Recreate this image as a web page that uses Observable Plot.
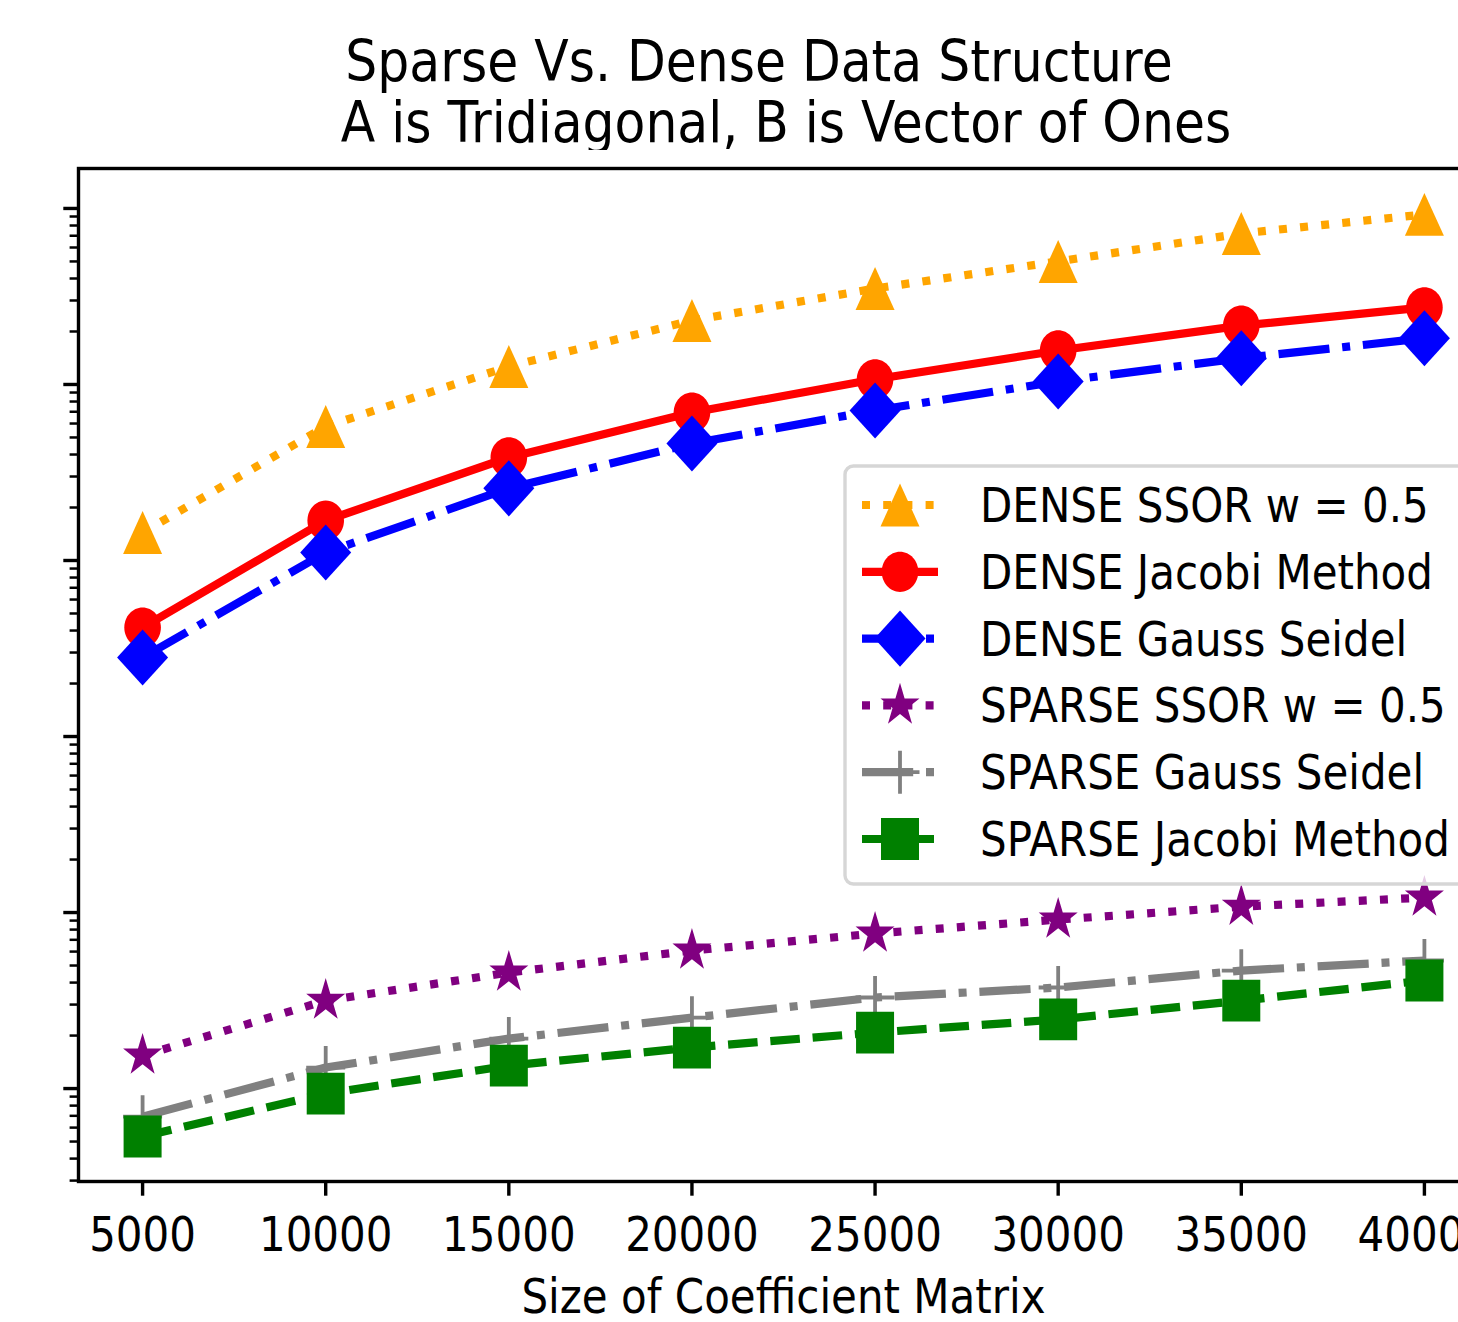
<!DOCTYPE html>
<html><head><meta charset="utf-8">
<script src="https://cdn.jsdelivr.net/npm/d3@7"></script>
<script src="https://cdn.jsdelivr.net/npm/@observablehq/plot@0.6"></script>
<style>
html,body{margin:0;padding:0;background:#fff;overflow:hidden;width:1458px;height:1322px;}
#title{position:relative;height:150px;width:1458px;font-family:"DejaVu Sans";font-size:50.4px;line-height:50.4px;color:#000;}
#title div{position:absolute;white-space:nowrap;transform-origin:50% 42.6px;transform:translateX(-50%) scaleY(1.14);}
#chart{position:relative;width:1500px;}
</style></head><body>
<div id="title"><div id="t1" style="left:759px;top:39px"></div><div id="t2" style="left:786px;top:100px"></div></div>
<div id="chart"></div>
<script>
// ---- data ----
const sizes = [5000, 10000, 15000, 20000, 25000, 30000, 35000, 40000];
const denseSSOR    = [1.443, 5.77, 12.66, 23.1, 35.1, 50.0, 72.1, 92.5];
const denseJacobi  = [0.416, 1.687, 3.85, 6.93, 10.7, 15.6, 21.6, 27.4];
const denseGS      = [0.281, 1.11, 2.57, 4.62, 7.12, 10.4, 14.1, 18.3];
const sparseSSOR   = [0.00154, 0.00316, 0.00456, 0.00608, 0.0076, 0.00912, 0.0108, 0.01217];
const sparseGS     = [0.000693, 0.001316, 0.001923, 0.00253, 0.00329, 0.00375, 0.00468, 0.00534];
const sparseJacobi = [0.000534, 0.000937, 0.00135, 0.00171, 0.00208, 0.00247, 0.00316, 0.00411];
const seriesNames = ["DENSE SSOR w = 0.5", "DENSE Jacobi Method", "DENSE Gauss Seidel",
                     "SPARSE SSOR w = 0.5", "SPARSE Gauss Seidel", "SPARSE Jacobi Method"];
const seriesValues = [denseSSOR, denseJacobi, denseGS, sparseSSOR, sparseGS, sparseJacobi];
const xTickValues = [5000, 10000, 15000, 20000, 25000, 30000, 35000, 40000];
const yMajorTicks = [0.001, 0.01, 0.1, 1, 10, 100];
const yMinorMultipliers = [2, 3, 4, 5, 6, 7, 8, 9];
const titleLines = ["Sparse Vs. Dense Data Structure", "A is Tridiagonal, B is Vector of Ones"];
const xLabel = "Size of Coefficient Matrix";

document.getElementById("t1").textContent = titleLines[0];
document.getElementById("t2").textContent = titleLines[1];

const table = seriesNames.flatMap((name, i) =>
  sizes.map((s, j) => ({series: name, size: s, time: seriesValues[i][j]})));

const yDomain = [Math.pow(10, -3.528), Math.pow(10, 2.227)];
const yMinorTicks = [];
for (let e = -4; e <= 2; e++) for (const m of yMinorMultipliers) {
  const v = m * Math.pow(10, e);
  if (v >= yDomain[0] && v <= yDomain[1]) yMinorTicks.push(v);
}

// ---- marker shapes (matplotlib-like, slightly taller than wide as in the reference) ----
const SY = 1.1;
const symTri = {draw(c, s){const h=Math.sqrt(s)/2, v=h*SY; c.moveTo(0,-v); c.lineTo(h,v); c.lineTo(-h,v); c.closePath();}};
const symDia = {draw(c, s){const h=Math.sqrt(s)/2, v=h*SY; c.moveTo(0,-v); c.lineTo(h,0); c.lineTo(0,v); c.lineTo(-h,0); c.closePath();}};
const symSq  = {draw(c, s){const h=Math.sqrt(s)/2, v=h*SY; c.moveTo(-h,-v); c.lineTo(h,-v); c.lineTo(h,v); c.lineTo(-h,v); c.closePath();}};
const symCirc= {draw(c, s){const a=Math.sqrt(s)/2, b=a*SY, k=0.5523;
  c.moveTo(a,0); c.bezierCurveTo(a,k*b,k*a,b,0,b); c.bezierCurveTo(-k*a,b,-a,k*b,-a,0);
  c.bezierCurveTo(-a,-k*b,-k*a,-b,0,-b); c.bezierCurveTo(k*a,-b,a,-k*b,a,0); c.closePath();}};
const symStar= {draw(c, s){const R=Math.sqrt(s)/2, r0=R*0.381966;
  for (let k=0;k<10;k++){const a=-Math.PI/2+k*Math.PI/5, rr=k%2?r0:R, x=rr*Math.cos(a), y=rr*Math.sin(a)*SY; if(k) c.lineTo(x,y); else c.moveTo(x,y);} c.closePath();}};
const symPlus= {draw(c, s){const h=Math.sqrt(s)/2; c.moveTo(-h,0); c.lineTo(h,0); c.moveTo(0,-h*SY); c.lineTo(0,h*SY);}};
const rFor = h => 2*h/Math.sqrt(Math.PI);

const LD = 8;      // dash-pattern unit (matplotlib scales dashes with linewidth)
const LW = 8.2;    // drawn line width
const dotted = `${LD} ${1.65*LD}`;
const dashed = `${3.7*LD} ${1.6*LD}`;
const dashdot = `${6.4*LD} ${1.6*LD} ${LD} ${1.6*LD}`;
const styles = [
  {color:"#FFA500", dash: dotted,  symbol: symTri,  half: 19.5, filled: true},
  {color:"#FF0000", dash: "none",  symbol: symCirc, half: 18.3, filled: true},
  {color:"#0000FF", dash: dashdot, symbol: symDia,  half: 25.5, filled: true},
  {color:"#800080", dash: dotted,  symbol: symStar, half: 20.5, filled: true},
  {color:"#808080", dash: dashdot, symbol: symPlus, half: 19.5, filled: false},
  {color:"#008000", dash: dashed,  symbol: symSq,   half: 19,   filled: true}
];

const marks = [
  Plot.axisX(xTickValues, {anchor: "bottom", tickSize: 14.7, strokeWidth: 3.4, tickPadding: 20.5,
    fontSize: 42, tickFormat: d3.format("d"), label: null}),
  Plot.axisY(yMajorTicks, {anchor: "left", tickSize: 14.7, strokeWidth: 3.4, tickFormat: () => "", label: null}),
  Plot.axisY(yMinorTicks, {anchor: "left", tickSize: 8.4, strokeWidth: 2.5, tickFormat: () => "", label: null}),
  Plot.text([xLabel], {frameAnchor: "bottom", lineAnchor: "bottom", dy: 131, fontSize: 42, fill: "black", text: d => d})
];
seriesNames.forEach((name, i) => {
  const st = styles[i];
  const data = table.filter(d => d.series === name);
  marks.push(Plot.line(data, {x: "size", y: "time", stroke: st.color, strokeWidth: LW,
    strokeDasharray: st.dash, strokeLinecap: "butt", strokeLinejoin: "round"}));
  marks.push(Plot.dot(data, {x: "size", y: "time", symbol: st.symbol, r: rFor(st.half),
    fill: st.filled ? st.color : "none", stroke: st.filled ? "none" : st.color, strokeWidth: st.filled ? 0 : 3.8}));
});
marks.push(Plot.frame({stroke: "black", strokeWidth: 3.4}));

const chart = Plot.plot({
  width: 1500, height: 1172,
  marginLeft: 78, marginRight: 12, marginTop: 18, marginBottom: 141,
  x: {domain: [3250, 41750]},
  y: {type: "log", domain: yDomain},
  style: {fontFamily: "DejaVu Sans", fontSize: "42px", background: "white", color: "black", overflow: "visible"},
  marks
});
document.getElementById("chart").appendChild(chart);

// ---- legend ----
const off = 150;
const svg = d3.select(chart);
const lg = svg.append("g").attr("text-anchor", "start");
lg.append("rect").attr("x", 845).attr("y", 466 - off).attr("width", 1467 - 845).attr("height", 884 - 466)
  .attr("rx", 8.4).attr("fill", "white").attr("fill-opacity", 0.8)
  .attr("stroke", "#d6d6d6").attr("stroke-width", 3.4);
seriesNames.forEach((name, i) => {
  const st = styles[i];
  const cy = 505 - off + i * 66.8;
  lg.append("line").attr("x1", 862).attr("x2", 938).attr("y1", cy).attr("y2", cy)
    .attr("stroke", st.color).attr("stroke-width", LW).attr("stroke-dasharray", st.dash)
    .attr("stroke-linecap", "butt");
  lg.append("path").attr("transform", `translate(900,${cy})`)
    .attr("d", d3.symbol(st.symbol, Math.PI * rFor(st.half) ** 2)())
    .attr("fill", st.filled ? st.color : "none").attr("stroke", st.filled ? "none" : st.color)
    .attr("stroke-width", st.filled ? 0 : 3.8);
  lg.append("text").attr("x", 980).attr("y", cy + 17).attr("font-size", 42)
    .attr("font-family", "DejaVu Sans").attr("fill", "black").attr("text-anchor", "start").text(name);
});

// ---- the reference's lettering is slightly taller than wide: stretch glyphs vertically ----
const TS = 1.14;
chart.querySelectorAll("text").forEach(t => {
  if (!t.textContent.trim()) return;
  t.setAttribute("font-size", 42);
  const w = t.getComputedTextLength();
  t.setAttribute("font-size", 42 * TS);
  t.setAttribute("textLength", w);
  t.setAttribute("lengthAdjust", "spacingAndGlyphs");
});
</script></body></html>
